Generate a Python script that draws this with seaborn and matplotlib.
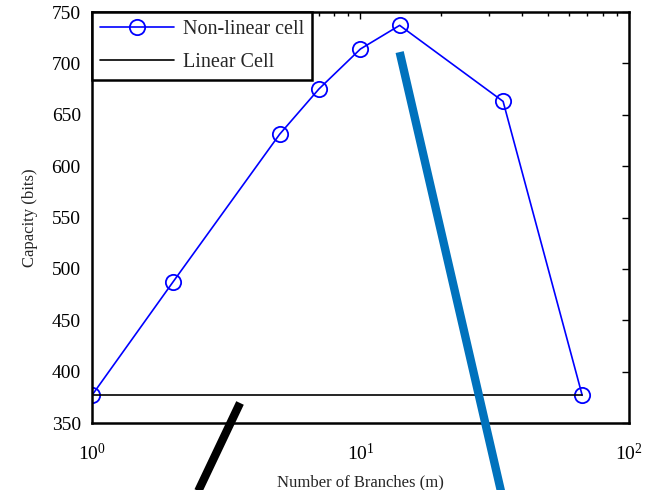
import matplotlib
matplotlib.use("Agg")
import matplotlib.pyplot as plt
import seaborn as sns
import pandas as pd
from matplotlib.ticker import LogLocator, LogFormatterMathtext, NullFormatter

# Data
branches = [1, 2, 5, 7, 10, 14, 34, 67]
capacity = [377, 487, 631, 675, 714, 737, 663, 377]
linear_x = [1, 67]
linear_y = [377, 377]
# thick annotation strokes (data coords)
black_stroke_x = [3.56, 2.3]
black_stroke_y = [369.5, 265]
blue_stroke_x = [14.0, 33.5]
blue_stroke_y = [711, 282]

sns.set_style("white")
plt.rcParams['font.family'] = ['Liberation Serif', 'DejaVu Serif']
plt.rcParams['mathtext.fontset'] = 'custom'
plt.rcParams['mathtext.rm'] = 'Liberation Serif'
plt.rcParams['mathtext.it'] = 'Liberation Serif:italic'

fig = plt.figure(figsize=(6.45, 4.9), dpi=100)
ax = fig.add_axes([0.1426, 0.1367, 0.975 - 0.1426, 0.9755 - 0.1367])

df = pd.DataFrame({"m": branches, "cap": capacity})
sns.lineplot(data=df, x="m", y="cap", ax=ax, color="#0000ff", lw=1.2,
             marker="o", markersize=11, markerfacecolor="none",
             markeredgecolor="#0000ff", markeredgewidth=1.3,
             label="Non-linear cell")
sns.lineplot(x=linear_x, y=linear_y, ax=ax, color="black", lw=1.2,
             label="Linear Cell")

ax.plot(black_stroke_x, black_stroke_y, color="black", lw=6,
        solid_capstyle="butt", clip_on=False, zorder=5)
ax.plot(blue_stroke_x, blue_stroke_y, color="#0072BD", lw=6,
        solid_capstyle="butt", clip_on=False, zorder=5)

ax.set_xscale("log")
ax.set_xlim(1, 100)
ax.set_ylim(350, 750)
ax.set_yticks(range(350, 751, 50))
ax.xaxis.set_major_locator(LogLocator(base=10))
ax.xaxis.set_major_formatter(LogFormatterMathtext())
ax.xaxis.set_minor_locator(LogLocator(base=10, subs=range(2, 10)))
ax.xaxis.set_minor_formatter(NullFormatter())

ax.tick_params(axis="both", which="both", direction="in", top=True, right=True,
               labelsize=14, colors="black")
ax.tick_params(which="major", length=5, width=1)
ax.tick_params(which="minor", length=3, width=1)
ax.tick_params(axis="x", which="major", pad=14)
ax.tick_params(axis="y", which="major", pad=8)
for s in ax.spines.values():
    s.set_visible(True)
    s.set_linewidth(1.8)
    s.set_color("black")

ax.set_xlabel("Number of Branches (m)", fontsize=12, labelpad=8)
ax.set_ylabel("Capacity (bits)", fontsize=12, labelpad=10)

leg = ax.legend(loc="upper left", fontsize=14.5, frameon=True, fancybox=False,
                borderaxespad=0, handlelength=3.7, handletextpad=0.45,
                borderpad=0.38, labelspacing=0.7)
leg.get_frame().set_edgecolor("black")
leg.get_frame().set_linewidth(1.8)
leg.get_frame().set_alpha(1)

fig.savefig("out.png", dpi=100)
